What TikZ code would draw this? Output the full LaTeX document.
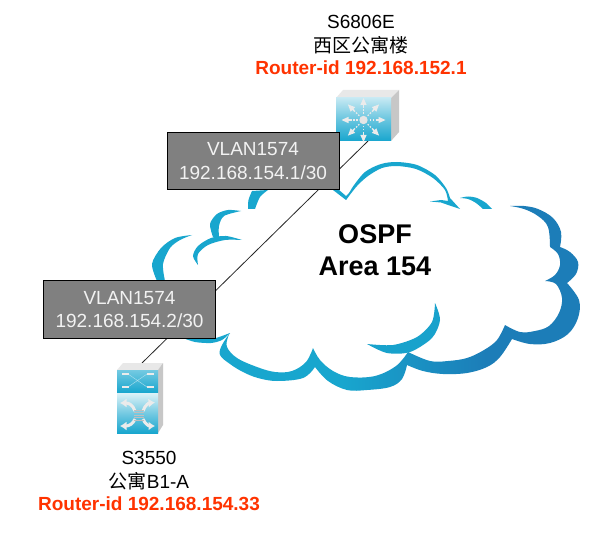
\documentclass[tikz,border=0pt]{standalone}
\usepackage{fontspec}
\setmainfont{Liberation Sans}
\newfontfamily\cjk{Noto Sans CJK SC}
\usetikzlibrary{arrows.meta}
\definecolor{cyanA}{HTML}{18A6CE}
\definecolor{blueA}{HTML}{1C7DB8}
\definecolor{redA}{HTML}{FF3300}
\tikzset{
 lbl/.style={font=\fontsize{19}{23}\selectfont,inner sep=0pt,anchor=center},
 rid/.style={lbl,font=\fontsize{19}{23}\bfseries\selectfont,text=redA},
 vbox/.style={draw=black,line width=1pt,fill=black!50,text=white!95!black,inner sep=0pt,align=center,
   font=\fontsize{19}{23.5}\selectfont,minimum height=57.5pt},
 ospf/.style={font=\fontsize{27}{32}\bfseries\selectfont,inner sep=0pt,anchor=center},
 crescent/.style={fill=cyanA,draw=none},
 topface/.style={fill=black!9,draw=none},
 sideface/.style={fill=black!22,draw=none},
 ic/.style={white!92!black},
 xarrow/.style={ic,line width=3pt,-{Latex[length=6.5pt,width=9pt]}},
}
\pgfdeclarehorizontalshading{cloudshade}{100bp}{
 color(0bp)=(cyanA); color(42bp)=(cyanA); color(62bp)=(blueA); color(100bp)=(blueA)}
\begin{document}
\begin{tikzpicture}[x=1pt,y=-1pt,line cap=butt]
\useasboundingbox (0,0) rectangle (605,540);
\fill[white] (0,0) rectangle (605,540);
% --- cloud: upper and left crescents
\fill[crescent] plot[smooth] coordinates {(346,200) (352,188) (365,172) (381,164) (397,162) (417,165) (435,175) (446,188) (450,198)}
  -- (460,209) -- (451,206) -- (441,202.5) -- (430,201.5) -- (441,200) -- (448,201)
  -- plot[smooth] coordinates {(448,201) (445,190) (433,178) (416,169) (397,166) (382,168) (368,176) (357,186) (346,200)} -- cycle;
\fill[crescent] (333,190) -- (346,200) -- (352,190) -- (346,196) -- (339,190) -- cycle;
\fill[crescent] plot[smooth] coordinates {(460,198) (468,196.5) (477,198) (486,203) (492,209)}
  -- (483,209) -- plot[smooth] coordinates {(483,209) (476,203) (468,199) (460,198)} -- cycle;
\fill[crescent] plot[smooth] coordinates {(248,209) (248.5,200) (252,191)} -- (268,190)
  -- plot[smooth] coordinates {(268,190) (260,197) (255,209)} -- cycle;
\fill[crescent] plot[smooth] coordinates {(241,211) (228,210) (217,214) (210,224) (213,237)}
  -- (219,237) -- plot[smooth] coordinates {(219,237) (219,226) (224,216) (241,211)} -- cycle;
\fill[crescent] plot[smooth] coordinates {(242,240) (226,236) (211,238) (198,246) (193,256) (198,265)}
  -- plot[smooth] coordinates {(198,265) (198,254) (208,245) (225,240) (242,240)} -- cycle;
\fill[crescent] plot[smooth] coordinates {(192,235) (175,238) (161,248) (152,264) (157,281)}
  -- (165,281) -- plot[smooth] coordinates {(165,281) (163,264) (170,248) (180,240) (192,235)} -- cycle;
\fill[crescent] plot[smooth] coordinates {(183,338) (195,342) (211,343) (222,340) (230,333)}
  -- plot[smooth] coordinates {(230,333) (222,336) (216,338)} -- cycle;
% --- cloud: lower and right big crescent
\shade[shading=cloudshade] plot[smooth,tension=.6] coordinates {(230,333) (222,345) (220,355) (230,364) (243,372) (258,378) (277,381) (303,378) (315,367)}
  -- plot[smooth,tension=.6] coordinates {(315,367) (328,381) (347,390) (367,390) (390,387) (402,379) (407,365)}
  -- plot[smooth,tension=.6] coordinates {(407,365) (423,371) (443,374) (467,373) (487,367) (500,357) (512,339)}
  -- plot[smooth,tension=.6] coordinates {(512,339) (530,344) (550,343) (568,334) (578,318) (579,300) (567,283)}
  -- plot[smooth,tension=.6] coordinates {(567,283) (576,274) (578,262) (570,252) (560,247)}
  -- plot[smooth,tension=.6] coordinates {(560,247) (561,232) (553,218) (538,209) (524,206) (510,206)}
  -- plot[smooth,tension=.6] coordinates {(510,206) (524,209) (538,216) (548,227) (550,247)}
  -- plot[smooth,tension=.6] coordinates {(550,247) (558,254) (560,265) (555,275) (545,281)}
  -- plot[smooth,tension=.6] coordinates {(545,281) (556,284) (562,298) (559,313) (549,326) (535,331) (520,332) (505,325)}
  -- plot[smooth,tension=.6] coordinates {(505,325) (497,340) (484,350) (467,358) (448,361) (430,361) (408,352)}
  -- plot[smooth,tension=.6] coordinates {(408,352) (396,366) (375,376) (350,377) (333,371) (320,360) (313,348)}
  -- plot[smooth,tension=.6] coordinates {(313,348) (306,362) (292,371) (275,372) (257,367) (237,358) (227,347) (228,337) (230,333)} -- cycle;
% --- cloud: inner crescent
\fill[cyanA!90!blueA] plot[smooth] coordinates {(435,303) (440,320) (432,338) (410,352) (387,353) (367,344)}
  -- plot[smooth] coordinates {(367,344) (393,345) (417,337) (432,322) (435,303)} -- cycle;
% --- cloud labels
\node[ospf] (ospf) at (375,234) {OSPF};
\node[ospf] (area) at (375,266) {Area 154};
% --- connector ends
\coordinate (linkA) at (368,141);
\coordinate (linkB) at (142,363);
\draw[black!85,line width=.8pt] (linkA) -- (linkB);
% --- S6806E switch
\fill[topface] (336,98) -- (343,90) -- (399,90) -- (391,98) -- cycle;
\fill[sideface] (391,98) -- (399,90) -- (399,132) -- (391,141) -- cycle;
\shade[top color=cyanA!25,bottom color=cyanA!100!black,middle color=cyanA!65] (336,98) rectangle (391,141);
\foreach \a in {0,45,...,315}{
 \begin{scope}[shift={(363.5,120)},rotate=\a]
  \draw[ic,line width=1.2pt,dash pattern=on 1.5pt off 1.5pt] (6,0) -- (13,0);
  \draw[ic,line width=1.6pt] (13,0) -- (17,0);
  \fill[ic] (15,-3.2) -- (22,0) -- (15,3.2) -- cycle;
 \end{scope}}
\fill[white!90!black] (363.5,120) circle (4.2pt);
% --- S3550 switch
\fill[topface] (117,370) -- (123,363) -- (163,363) -- (158,370) -- cycle;
\fill[sideface] (158,370) -- (163,363) -- (163,425) -- (158,433) -- cycle;
\shade[top color=cyanA!60,bottom color=cyanA!100!black] (117,370) rectangle (158,392.5);
\shade[top color=cyanA!15,bottom color=cyanA!100!black,middle color=cyanA!60] (117,393) rectangle (158,433);
\draw[cyanA!35,line width=.4pt] (128,374) -- (147,387) (128,387) -- (147,374);
\foreach \p in {(125,374),(150,374),(125,387),(150,387)}
  \fill[white!92!black] \p ++(-3.5,-1.2) rectangle ++(7,2.4);
\draw[xarrow] (135,411) .. controls (133,405) and (129,403) .. (120,403);
\draw[xarrow] (143,411) .. controls (145,405) and (149,403) .. (155,402.5);
\draw[xarrow] (135,419) .. controls (133,424) and (129,426) .. (120,426);
\draw[xarrow] (143,419) .. controls (145,424) and (149,426) .. (155,426);
\foreach \yy in {410,412.5,415,417.5,420}
  \draw[black!25,line width=.7pt] (134,\yy) -- (144,\yy);
% --- labels
\node[lbl] (topname) at (361,22) {S6806E};
\node[lbl] (topplace) at (361,45) {\cjk 西区公寓楼};
\node[rid] (toprid) at (361,68) {Router-id 192.168.152.1};
\node[lbl] (botname) at (149,458) {S3550};
\node[lbl] (botplace) at (149,481) {\cjk 公寓\rmfamily B1-A};
\node[rid] (botrid) at (149,504) {Router-id 192.168.154.33};
% --- VLAN boxes
\node[vbox,minimum width=172pt] (vlanA) at (253,161) {VLAN1574\\192.168.154.1/30};
\node[vbox,minimum width=172pt] (vlanB) at (129.5,309.5) {VLAN1574\\192.168.154.2/30};
\end{tikzpicture}
\end{document}
